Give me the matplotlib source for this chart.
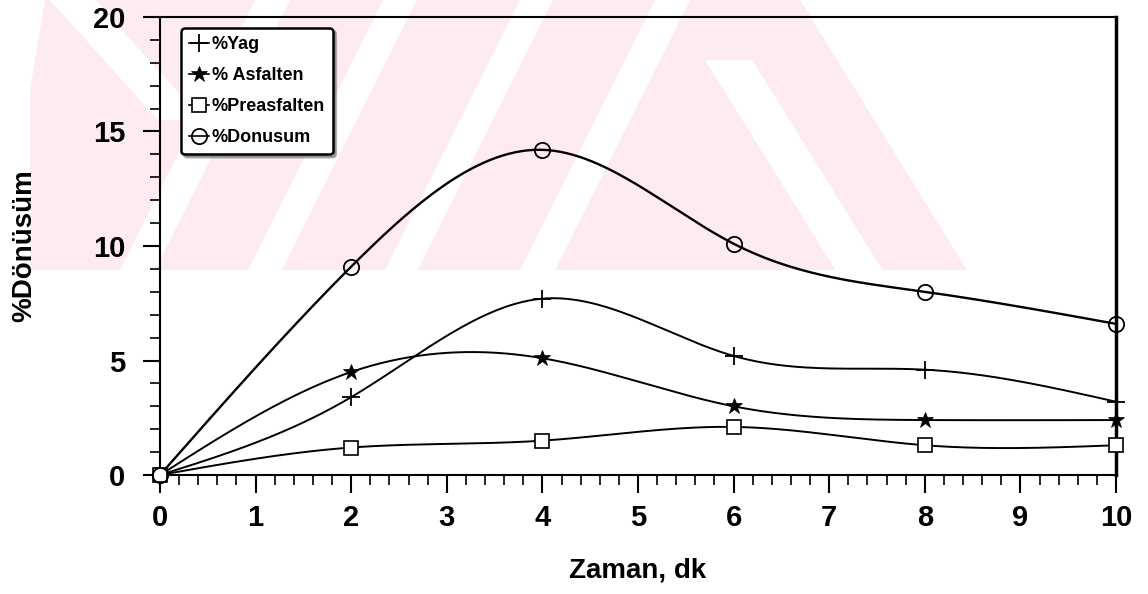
import numpy as np
import matplotlib.pyplot as plt
from matplotlib.patches import Polygon
from matplotlib.ticker import MultipleLocator

plt.rcParams['font.family'] = ['Liberation Sans', 'DejaVu Sans']
plt.rcParams['font.weight'] = 'bold'
plt.rcParams['axes.labelweight'] = 'bold'

# zaman (dk) ve donusum yuzdeleri
zaman = [0, 2, 4, 6, 8, 10]
yag = [0, 3.4, 7.7, 5.2, 4.6, 3.2]
asfalten = [0, 4.5, 5.1, 3.0, 2.4, 2.4]
preasfalten = [0, 1.2, 1.5, 2.1, 1.3, 1.3]
donusum = [0, 9.1, 14.2, 10.1, 8.0, 6.6]


def spline(x, y, n=300):
    # dogal kubik spline
    x = np.asarray(x, float)
    y = np.asarray(y, float)
    h = np.diff(x)
    m = len(x)
    A = np.zeros((m, m))
    b = np.zeros(m)
    A[0, 0] = A[-1, -1] = 1
    for i in range(1, m - 1):
        A[i, i - 1] = h[i - 1]
        A[i, i] = 2 * (h[i - 1] + h[i])
        A[i, i + 1] = h[i]
        b[i] = 6 * ((y[i + 1] - y[i]) / h[i] - (y[i] - y[i - 1]) / h[i - 1])
    M = np.linalg.solve(A, b)
    xs = np.linspace(x[0], x[-1], n)
    k = np.clip(np.searchsorted(x, xs) - 1, 0, m - 2)
    t0 = x[k + 1] - xs
    t1 = xs - x[k]
    hk = h[k]
    ys = (M[k] * t0 ** 3 + M[k + 1] * t1 ** 3) / (6 * hk) \
        + (y[k] / hk - M[k] * hk / 6) * t0 + (y[k + 1] / hk - M[k + 1] * hk / 6) * t1
    return xs, ys


W, H = 1148, 594
fig = plt.figure(figsize=(W / 100, H / 100), dpi=100)

# arka plandaki soluk kirmizi filigran (piksel koordinatlari, y asagi)
pink = '#fdebef'
def poly(pts, color):
    p = Polygon([(px / W, 1 - py / H) for px, py in pts], closed=True, fc=color,
                ec='none', transform=fig.transFigure, zorder=-5)
    fig.patches.append(p)

def band(c0, c1, k, top=0, bot=270):
    return [(c0 + k * top, top), (c1 + k * top, top), (c1 + k * bot, bot), (c0 + k * bot, bot)]

poly([(30, 0), (800, 0), (967, 270), (30, 270)], pink)
poly([(0, 0), (45, 0), (0, 270)], 'white')
poly(band(50, 95, 0.9, 0, 120), 'white')
for c0, c1 in [(255, 290), (383, 417), (520, 553), (655, 690)]:
    poly(band(c0, c1, -0.5), 'white')
poly(band(668, 715, 0.62, 60, 270), 'white')

ax = fig.add_axes([160 / W, 1 - 475 / H, 956 / W, 458 / H])
ax.patch.set_alpha(0)

series = [
    ('%Yag', yag, dict(marker='+', ms=13, mew=1.3, lw=1.4)),
    ('% Asfalten', asfalten, dict(marker='*', ms=12, mew=0.5, lw=1.4)),
    ('%Preasfalten', preasfalten, dict(marker='s', ms=10, mew=1.2, mfc='white', lw=1.4)),
    ('%Donusum', donusum, dict(marker='o', ms=11, mew=1.3, mfc='none', lw=1.7)),
]
handles = []
for name, vals, st in series:
    xs, ys = spline(zaman, vals)
    lw = st.pop('lw')
    ax.plot(xs, ys, color='black', lw=lw, zorder=3)
    ax.plot(zaman, vals, ls='none', color='black', clip_on=False, zorder=4, **st)
    h, = ax.plot([], [], color='black', lw=1.2, **st)
    handles.append(h)

ax.set_xlim(0, 10)
ax.set_ylim(0, 20)
ax.xaxis.set_major_locator(MultipleLocator(1))
ax.xaxis.set_minor_locator(MultipleLocator(0.2))
ax.yaxis.set_major_locator(MultipleLocator(5))
ax.yaxis.set_minor_locator(MultipleLocator(1))
ax.tick_params(axis='x', which='major', direction='out', length=13, width=1.5, labelsize=21, pad=8)
ax.tick_params(axis='x', which='minor', direction='out', length=7, width=1.2)
ax.tick_params(axis='y', which='major', direction='out', length=12, width=1.5, labelsize=21, pad=13)
ax.tick_params(axis='y', which='minor', direction='out', length=7, width=1.2)
for s in ax.spines.values():
    s.set_linewidth(1.5)
ax.spines['right'].set_linewidth(2.5)

ax.set_xlabel('Zaman, dk', fontsize=20, labelpad=18)
ax.set_ylabel('%Dönüsüm', fontsize=20, labelpad=40)

leg = ax.legend(handles, [s[0] for s in series], loc='upper left',
                bbox_to_anchor=(0.022, 0.976), borderaxespad=0, fontsize=13,
                handlelength=1.1, handletextpad=0.15, labelspacing=0.78,
                borderpad=0.45, fancybox=True, shadow={'color': '0.4'},
                framealpha=1, edgecolor='black')
leg.get_frame().set_linewidth(1.8)

fig.savefig('out.png', dpi=100)
